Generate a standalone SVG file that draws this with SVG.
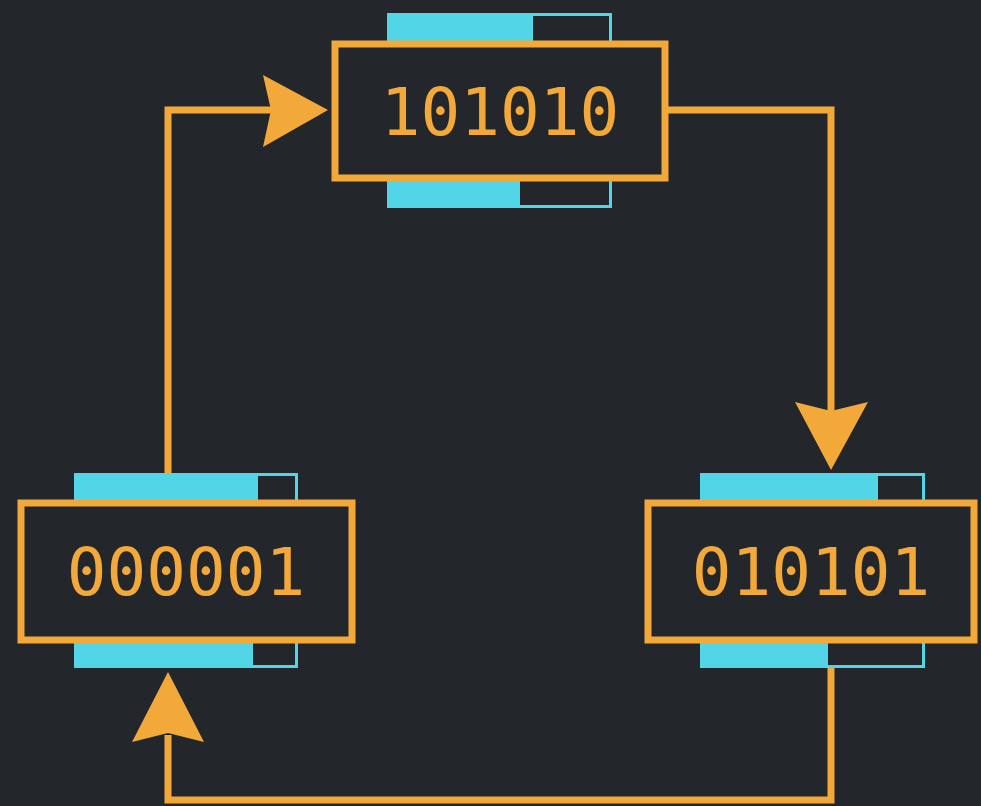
<svg xmlns="http://www.w3.org/2000/svg" width="981" height="806" viewBox="0 0 981 806">
<defs>
<style>
.bg{fill:#23272c}
.wire{fill:none;stroke:#f3a93a;stroke-width:7;stroke-linejoin:miter}
.head{fill:#f3a93a}
.box{fill:#23272c;stroke:#f3a93a;stroke-width:7}
.barout{fill:#23272c;stroke:#52d5e6;stroke-width:3}
.barin{fill:#52d5e6}
.lbl{font-family:"DejaVu Sans Mono","Liberation Mono",monospace;font-size:66px;fill:#f3a93a;text-anchor:middle}
</style>
</defs>
<rect class="bg" x="0" y="0" width="981" height="806"/>
<g id="connectors">
<path class="wire" d="M168,480 V110 H272"/>
<polygon class="head" points="328,110 263,75 271,110 263,147"/>
<path class="wire" d="M665,110 H831 V412"/>
<polygon class="head" points="831,470 795,402 831,411 868,402"/>
<path class="wire" d="M831,668 V800 H168 V735"/>
<polygon class="head" points="168,672 132,742 168,733 204,742"/>
</g>
<g id="node-101010">
<rect class="barout" x="388.5" y="14.5" width="222" height="30"/>
<rect class="barin" x="387" y="13" width="146" height="31"/>
<rect class="barout" x="388.5" y="178" width="222" height="28.5"/>
<rect class="barin" x="387" y="178" width="133" height="30"/>
<rect class="box" x="335" y="44" width="330" height="134"/>
<text class="lbl" x="500" y="135">101010</text>
</g>
<g id="node-000001">
<rect class="barout" x="75.5" y="474.5" width="221" height="29"/>
<rect class="barin" x="74" y="473" width="184" height="30"/>
<rect class="barout" x="75.5" y="640" width="221" height="26.5"/>
<rect class="barin" x="74" y="640" width="179" height="28"/>
<rect class="box" x="21" y="503" width="331" height="137"/>
<text class="lbl" x="186" y="595">000001</text>
</g>
<g id="node-010101">
<rect class="barout" x="701.5" y="474.5" width="222" height="29"/>
<rect class="barin" x="700" y="473" width="178" height="30"/>
<rect class="barout" x="701.5" y="640" width="222" height="26.5"/>
<rect class="barin" x="700" y="640" width="128" height="28"/>
<rect class="box" x="648" y="503" width="326" height="137"/>
<text class="lbl" x="811" y="595">010101</text>
</g>
</svg>
